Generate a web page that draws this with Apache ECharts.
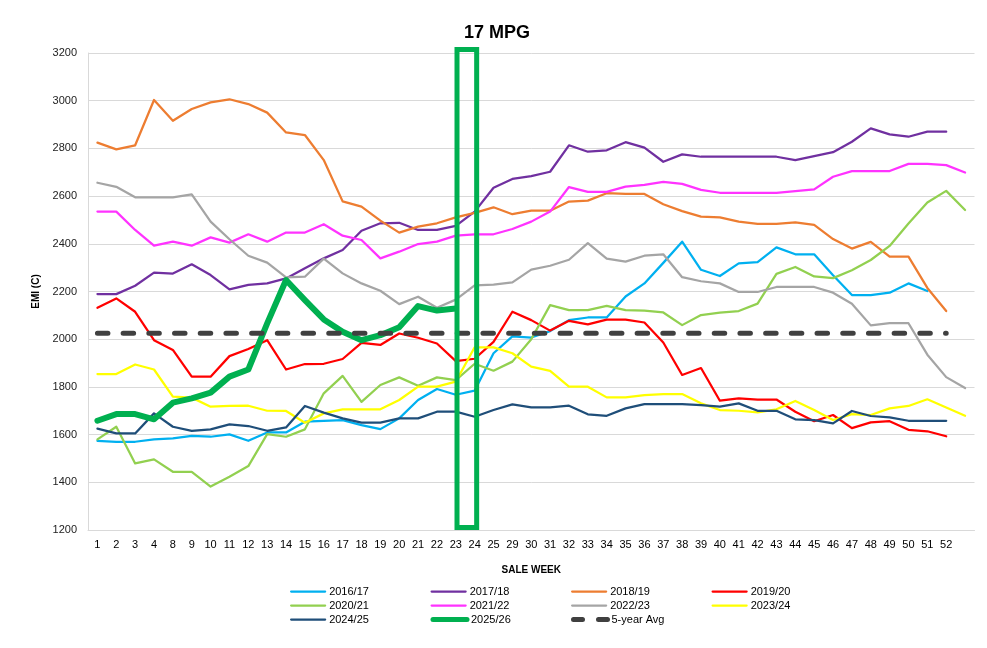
<!DOCTYPE html>
<html>
<head>
<meta charset="utf-8">
<script src="https://cdn.jsdelivr.net/npm/echarts@6/dist/echarts.min.js"></script>
<style>
html,body{margin:0;padding:0;background:#fff;}
#main{width:987px;height:648px;}
</style>
</head>
<body>
<div id="main"></div>
<script>
const weeks = ['1','2','3','4','8','9','10','11','12','13','14','15','16','17','18','19','20','21','22','23','24','25','29','30','31','32','33','34','35','36','37','38','39','40','41','42','43','44','45','46','47','48','49','50','51','52',''];
const yTicks = { min: 1200, max: 3200, interval: 200 };

const s1617 = [1574,1570,1570,1580,1584,1595,1591,1601,1574,1609,1609,1654,1658,1661,1640,1623,1668,1745,1791,1767,1784,1941,2012,2007,2034,2080,2091,2091,2179,2234,2320,2409,2291,2265,2318,2323,2385,2356,2356,2268,2185,2185,2195,2234,2202,null,null];
const s1718 = [2189,2189,2224,2279,2275,2314,2269,2209,2228,2234,2255,2297,2339,2374,2455,2486,2488,2458,2458,2475,2535,2635,2672,2684,2702,2813,2786,2792,2826,2803,2744,2775,2765,2765,2765,2765,2765,2751,2768,2784,2828,2884,2859,2849,2870,2870,null];
const s1819 = [2824,2796,2813,3003,2916,2965,2993,3006,2986,2950,2867,2856,2751,2578,2556,2497,2447,2472,2486,2511,2530,2553,2524,2539,2539,2577,2581,2612,2609,2609,2566,2537,2514,2511,2493,2484,2484,2490,2479,2420,2380,2408,2346,2346,2215,2118,null];
const s1920 = [2132,2171,2115,1996,1955,1843,1843,1929,1959,1996,1873,1896,1897,1917,1985,1976,2024,2006,1982,1908,1918,1989,2115,2080,2036,2077,2062,2082,2082,2070,1986,1850,1879,1742,1752,1747,1747,1696,1656,1682,1627,1651,1656,1620,1614,1593,null];
const s2021 = [1580,1633,1479,1496,1444,1444,1382,1423,1468,1602,1591,1622,1773,1846,1737,1808,1840,1805,1840,1828,1897,1868,1906,2000,2143,2122,2122,2140,2122,2120,2112,2059,2101,2111,2118,2149,2274,2303,2263,2256,2289,2332,2391,2485,2573,2622,2542];
const s2122 = [2535,2535,2458,2392,2409,2392,2427,2405,2440,2409,2447,2447,2482,2434,2416,2339,2367,2399,2409,2434,2440,2440,2462,2493,2535,2638,2618,2618,2640,2647,2660,2651,2626,2614,2614,2614,2614,2621,2628,2681,2705,2705,2705,2735,2735,2730,2699];
const s2223 = [2656,2639,2595,2595,2595,2607,2493,2419,2350,2321,2259,2262,2338,2276,2234,2203,2147,2178,2132,2166,2226,2229,2238,2292,2308,2333,2403,2338,2325,2350,2356,2260,2243,2234,2198,2198,2219,2219,2219,2195,2149,2058,2067,2067,1935,1841,1795];
const s2324 = [1854,1854,1894,1873,1759,1755,1717,1720,1721,1700,1699,1650,1689,1706,1706,1706,1745,1801,1801,1822,1966,1966,1941,1885,1867,1801,1801,1756,1756,1766,1770,1770,1731,1703,1700,1693,1706,1741,1703,1661,1686,1682,1710,1720,1748,1714,1679];
const s2425 = [1625,1605,1605,1689,1633,1616,1622,1643,1636,1616,1630,1720,1692,1668,1650,1650,1668,1668,1696,1696,1675,1703,1727,1714,1714,1721,1685,1679,1710,1728,1728,1728,1724,1717,1731,1700,1700,1664,1661,1647,1699,1678,1672,1658,1658,1658,null];
const s2526 = [1658,1686,1686,1664,1734,1752,1776,1843,1873,2066,2248,2164,2083,2031,1996,2017,2050,2139,2120,2129,null,null,null,null,null,null,null,null,null,null,null,null,null,null,null,null,null,null,null,null,null,null,null,null,null,null,null];
const avg5 = [2025,2025,2025,2025,2025,2025,2025,2025,2025,2025,2025,2025,2025,2025,2025,2025,2025,2025,2025,2025,2025,2025,2025,2025,2025,2025,2025,2025,2025,2025,2025,2025,2025,2025,2025,2025,2025,2025,2025,2025,2025,2025,2025,2025,2025,2025,null];

const seriesNames = ['2016/17','2017/18','2018/19','2019/20','2020/21','2021/22','2022/23','2023/24','2024/25','2025/26','5-year Avg'];
const seriesData = [s1617,s1718,s1819,s1920,s2021,s2122,s2223,s2324,s2425,s2526,avg5];
const colors = ['#00B0F0','#7030A0','#ED7D31','#FF0000','#92D050','#FF33FF','#A5A5A5','#FFFF00','#1F4E79','#00B050','#404040'];
const highlightStart = '23', highlightEnd = '24';

const FONT = 'Liberation Sans';

function styleFor(name, color) {
  const ls = { color, width: 2.25, cap: 'round', join: 'round', type: 'solid' };
  if (name === '2025/26') ls.width = 6;
  if (name === '5-year Avg') { ls.width = 5; ls.type = [10.5, 15.2]; }
  return ls;
}

const series = seriesNames.map((name, i) => ({
  name, type: 'line', data: seriesData[i], symbol: 'none', smooth: false,
  connectNulls: false,
  color: colors[i],
  lineStyle: styleFor(name, colors[i]),
  z: name === '2025/26' ? 20 : (name === '5-year Avg' ? 21 : 2 + i),
  animation: false
}));

const legends = seriesNames.map((name, i) => {
  const ls = styleFor(name, colors[i]);
  if (name === '5-year Avg') ls.type = [9, 16];
  if (name === '2025/26') ls.width = 5;
  return {
    data: [name],
    left: 290 + (i % 4) * 140.5,
    top: 586 + Math.floor(i / 4) * 14,
    padding: 0,
    itemWidth: 34,
    itemHeight: 12,
    itemGap: 4,
    selectedMode: false,
    itemStyle: { opacity: 0 },
    lineStyle: ls,
    textStyle: { fontFamily: FONT, fontSize: 11, color: '#000', padding: [0,0,0,-1] }
  };
});

const chart = echarts.init(document.getElementById('main'), null, { renderer: 'canvas' });
chart.setOption({
  animation: false,
  backgroundColor: '#fff',
  title: {
    text: '17 MPG', left: 492, top: 19, textAlign: 'center',
    textStyle: { fontFamily: FONT, fontSize: 18, fontWeight: 'bold', color: '#000' }
  },
  legend: legends,
  grid: { left: 88, right: 12.5, top: 53, bottom: 118, containLabel: false },
  xAxis: {
    type: 'category', data: weeks, boundaryGap: true,
    name: 'SALE WEEK', nameLocation: 'middle', nameGap: 35,
    nameTextStyle: { fontFamily: FONT, fontSize: 10, fontWeight: 'bold', color: '#000' },
    axisLine: { show: true, lineStyle: { color: '#D9D9D9', width: 1 } },
    axisTick: { show: false },
    axisLabel: { interval: 0, margin: 9, fontFamily: FONT, fontSize: 11, color: '#000' },
    splitLine: { show: false }
  },
  yAxis: {
    type: 'value', min: yTicks.min, max: yTicks.max, interval: yTicks.interval,
    name: 'EMI (C)', nameLocation: 'middle', nameGap: 47, nameRotate: 90,
    nameTextStyle: { fontFamily: FONT, fontSize: 10, fontWeight: 'bold', color: '#000' },
    axisLine: { show: true, lineStyle: { color: '#D9D9D9', width: 1 } },
    axisTick: { show: false },
    axisLabel: { margin: 11, fontFamily: FONT, fontSize: 11, color: '#222', formatter: v => String(v) },
    splitLine: { show: true, lineStyle: { color: '#D9D9D9', width: 1 } }
  },
  series
});

function drawBox() {
  const iStart = weeks.indexOf(highlightStart), iEnd = weeks.indexOf(highlightEnd);
  const pTop = chart.convertToPixel({ gridIndex: 0 }, [iStart, 3215]);
  const pBot = chart.convertToPixel({ gridIndex: 0 }, [iEnd, 1210]);
  const x1 = pTop[0] + 1.2, x2 = pBot[0] + 2;
  chart.setOption({
    graphic: [{
      type: 'rect', z: 100,
      shape: { x: x1, y: pTop[1], width: x2 - x1, height: pBot[1] - pTop[1] },
      style: { fill: 'none', stroke: '#00B050', lineWidth: 5 }
    }]
  });
}
drawBox();
</script>
</body>
</html>
